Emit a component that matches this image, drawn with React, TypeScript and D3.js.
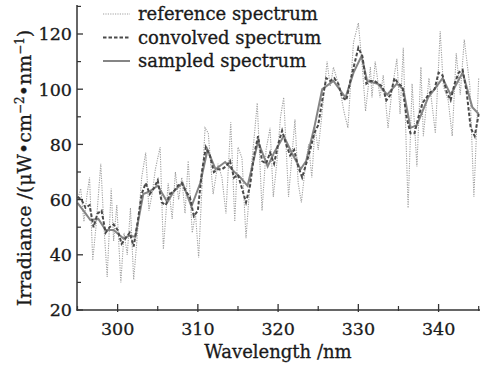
import React from "react";
import * as d3 from "d3";

const refWl = [295.0,295.4,295.8,296.2,296.5,296.9,297.3,297.9,298.3,298.7,299.2,299.5,299.9,300.4,300.8,301.2,301.6,302.0,302.4,303.0,303.5,303.9,304.3,304.7,305.3,305.7,306.3,306.8,307.2,307.6,308.0,308.4,308.8,309.3,309.7,310.1,310.6,310.9,311.3,311.9,312.5,313.0,313.5,314.1,314.6,315.0,315.5,316.0,316.6,317.0,317.4,318.0,318.5,319.0,319.4,319.9,320.3,320.7,321.3,321.7,322.1,322.5,322.9,323.4,323.8,324.2,324.6,325.0,325.5,326.1,326.5,326.9,327.3,327.7,328.2,328.7,329.0,329.4,330.0,330.5,330.9,331.5,331.7,332.1,332.7,333.1,333.7,334.2,334.8,335.2,335.6,336.2,336.7,337.3,337.8,338.1,338.8,339.6,340.2,340.6,341.2,341.7,342.2,342.7,343.2,343.9,344.4,345.0];
const refVal = [60,64,52,62,68,38,50,73,50,32,64,45,58,30,48,40,57,31,45,68,77,56,62,71,79,42,66,53,70,60,68,55,74,48,55,39,70,86,84,62,73,68,55,88,52,79,75,46,70,82,95,56,78,86,61,75,90,97,61,75,89,66,59,72,80,68,86,78,92,110,101,108,104,100,92,86,100,117,124,108,92,108,97,110,97,105,86,100,111,91,115,57,102,72,108,83,104,84,121,101,96,83,113,98,118,101,61,104];

const convWl = d3.range(295, 345.01, 0.5);
const convVal = [61,60,57,58,50,55,56,48,50,51,49,44,46,48,43,52,62,66,62,64,67,59,58,62,63,65,66,63,61,54,56,70,79,76,70,71,71,72,74,68,69,64,59,65,76,83,74,73,77,73,80,85,80,76,78,72,68,73,78,84,87,96,104,103,104,102,97,96,103,109,115,112,102,103,103,102,101,96,98,104,102,101,90,84,84,90,95,97,99,100,106,105,99,96,102,106,107,99,86,83,91];

const sampWl = [295,296,296.6,297.6,298.5,299.5,300.7,301.5,302.2,303.2,304,305,306.2,307,308.1,309.2,310.3,311.2,312.2,313.4,314.7,315.3,316.2,317.5,318.7,319.5,320.7,321.7,322.8,323.5,324.5,325.5,326.9,328.4,329.4,330.4,331.1,332.4,333.6,334.8,335.6,336.5,337.3,338.7,339.5,340.5,341.5,343.0,344.2,345.0];
const sampVal = [58.8,55,52.6,53,49,49,46,47,46.5,62,63,65,59,63,66,57.5,66,78,71,73.6,69.6,68,65,81,72,77,83,77,71,74,86,100,103,97,106,112,103,102,98,102,100,86,87,97,100,104,98,106,93.5,91];

const xTicks = [300, 310, 320, 330, 340];
const xMinor = [295, 305, 315, 325, 335, 345];
const yTicks = [20, 40, 60, 80, 100, 120];
const yMinor = [30, 50, 70, 90, 110, 130];

const legendItems = ["reference spectrum", "convolved spectrum", "sampled spectrum"];

export default function App() {
  const W = 494, H = 367;
  const x = d3.scaleLinear().domain([295, 345]).range([77.5, 478.7]);
  const y = d3.scaleLinear().domain([20, 130]).range([310, 6.4]);
  const line = d3.line<[number, number]>().x(d => x(d[0])).y(d => y(d[1]));
  const refPts = refWl.map((w, i) => [w, refVal[i]] as [number, number]);
  const convPts = convWl.map((w, i) => [w, convVal[i]] as [number, number]);
  const sampPts = sampWl.map((w, i) => [w, sampVal[i]] as [number, number]);
  const font = "'DejaVu Serif', serif";
  const axisColor = "#333";
  const txt = { fontFamily: font, fill: "#1a1a1a", stroke: "#1a1a1a", strokeWidth: 0.3 };
  const styles = [
    { stroke: "#a0a0a0", width: 1.1, dash: "1.2,1.2" },
    { stroke: "#4a4a4a", width: 2, dash: "3.5,2" },
    { stroke: "#858585", width: 2, dash: "none" },
  ];
  return (
    <svg width={W} height={H} style={{ position: "absolute", left: 0, top: 0, background: "#fff" }}>
      <path d={line(refPts) || ""} fill="none" stroke={styles[0].stroke} strokeWidth={styles[0].width} strokeDasharray={styles[0].dash} />
      <path d={line(sampPts) || ""} fill="none" stroke={styles[2].stroke} strokeWidth={styles[2].width} />
      <path d={line(convPts) || ""} fill="none" stroke={styles[1].stroke} strokeWidth={styles[1].width} strokeDasharray={styles[1].dash} />
      <line x1={77} x2={77} y1={5} y2={310.5} stroke={axisColor} strokeWidth={1.5} />
      <line x1={76.5} x2={480} y1={310} y2={310} stroke={axisColor} strokeWidth={1.5} />
      {yTicks.map(t => (
        <g key={"y" + t}>
          <line x1={77} x2={83} y1={y(t)} y2={y(t)} stroke={axisColor} strokeWidth={1.3} />
          <text x={72} y={y(t)} dy="0.36em" textAnchor="end" fontSize={17.5} {...txt}>{t}</text>
        </g>
      ))}
      {yMinor.map(t => (
        <line key={"ym" + t} x1={77} x2={81} y1={y(t)} y2={y(t)} stroke={axisColor} strokeWidth={1.2} />
      ))}
      {xTicks.map(t => (
        <g key={"x" + t}>
          <line x1={x(t)} x2={x(t)} y1={304} y2={312} stroke={axisColor} strokeWidth={1.3} />
          <text x={x(t)} y={335} textAnchor="middle" fontSize={17.5} {...txt}>{t}</text>
        </g>
      ))}
      {xMinor.map(t => (
        <line key={"xm" + t} x1={x(t)} x2={x(t)} y1={306} y2={311} stroke={axisColor} strokeWidth={1.2} />
      ))}
      <text x={278} y={358} textAnchor="middle" fontSize={18} {...txt}>Wavelength /nm</text>
      <text transform="translate(31,168) rotate(-90)" textAnchor="middle" fontSize={19} {...txt}>
        Irradiance /(μW•cm<tspan dy={-7} fontSize={12}>−2</tspan><tspan dy={7}>•nm</tspan><tspan dy={-7} fontSize={12}>−1</tspan><tspan dy={7}>)</tspan>
      </text>
      {legendItems.map((name, i) => (
        <g key={name}>
          <line x1={103} x2={130} y1={14 + i * 23.5} y2={14 + i * 23.5} stroke={styles[i].stroke} strokeWidth={styles[i].width} strokeDasharray={styles[i].dash} />
          <text x={138} y={14 + i * 23.5} dy="0.35em" fontSize={18} {...txt}>{name}</text>
        </g>
      ))}
    </svg>
  );
}
